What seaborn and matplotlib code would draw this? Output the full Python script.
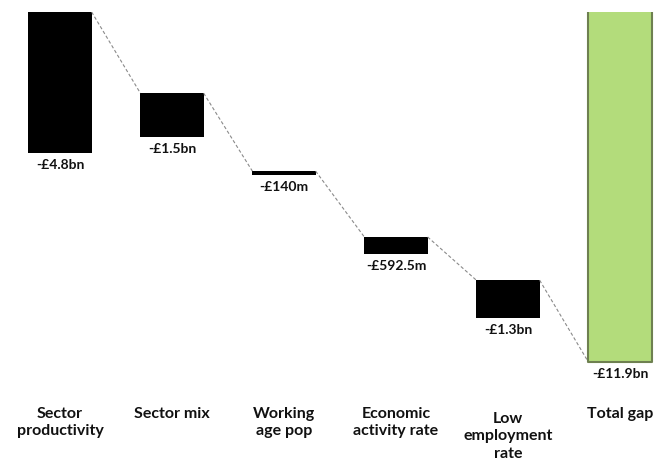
import matplotlib
matplotlib.use("Agg")
import matplotlib.pyplot as plt
import seaborn as sns
import pandas as pd

categories = ["Sector\nproductivity", "Sector mix", "Working\nage pop",
              "Economic\nactivity rate", "Low\nemployment\nrate", "Total gap"]
values = [-4.8, -1.5, -0.14, -0.5925, -1.3, -11.9]
starts = [0.0, -2.76, -5.41, -7.65, -9.12, 0.0]
value_labels = ["-£4.8bn", "-£1.5bn", "-£140m", "-£592.5m", "-£1.3bn", "-£11.9bn"]
bar_colors = ["#000000"] * 5 + ["#b3dc7b"]
edge_color_total = "#6e8050"

df = pd.DataFrame({"cat": categories, "value": values, "start": starts})

sns.set_theme(style="white")
plt.rcParams["font.family"] = ["Lato", "DejaVu Sans"]

fig = plt.figure(figsize=(6.59, 4.66), dpi=100)
ax = fig.add_axes([0, 0, 1, 454 / 466])

width = 0.565
sns.barplot(data=df, x="cat", y="value", hue="cat", palette=bar_colors,
            legend=False, width=width, ax=ax, linewidth=0, saturation=1,
            dodge=False)
# hang each bar from its start value (floating waterfall)
for p, s, v in zip(ax.patches, df["start"], df["value"]):
    p.set_y(s)
    p.set_height(v)

# outline of the total bar (sides and bottom; top runs off the plot)
tp = ax.patches[-1]
x0, x1 = tp.get_x(), tp.get_x() + tp.get_width()
yb = tp.get_y() + tp.get_height()
ax.plot([x0, x0, x1, x1], [tp.get_y(), yb, yb, tp.get_y()],
        color=edge_color_total, lw=1.5, zorder=3)

# connectors
n = len(categories)
for i in range(n - 1):
    y0 = starts[i]
    y1 = starts[i + 1] if i + 1 < n - 1 else starts[i + 1] + values[i + 1]
    ax.plot([i + width / 2, i + 1 - width / 2], [y0, y1], color="#8a8a8a",
            lw=0.8, ls=(0, (3, 2)), zorder=1)

for i, (s, v, lab) in enumerate(zip(starts, values, value_labels)):
    ax.annotate(lab, (i, s + v), xytext=(0, -4), textcoords="offset points",
                ha="center", va="top", fontsize=10, fontweight="bold", color="#111111")

label_y = [0.130, 0.130, 0.130, 0.130, 0.119, 0.130]
for i, (c, ly) in enumerate(zip(categories, label_y)):
    ax.text(i, ly, c, transform=ax.get_xaxis_transform(), ha="center", va="top",
            fontsize=11.5, fontweight="bold", color="#111111", linespacing=1.3)

ax.set_xlim(-60 / 112, (659 - 60) / 112)
ax.set_ylim(-454 / 29.41, 0)
ax.set_xlabel("")
ax.set_ylabel("")
ax.set_xticks([])
ax.set_yticks([])
for sp in ax.spines.values():
    sp.set_visible(False)

fig.savefig("out.png", dpi=100)
